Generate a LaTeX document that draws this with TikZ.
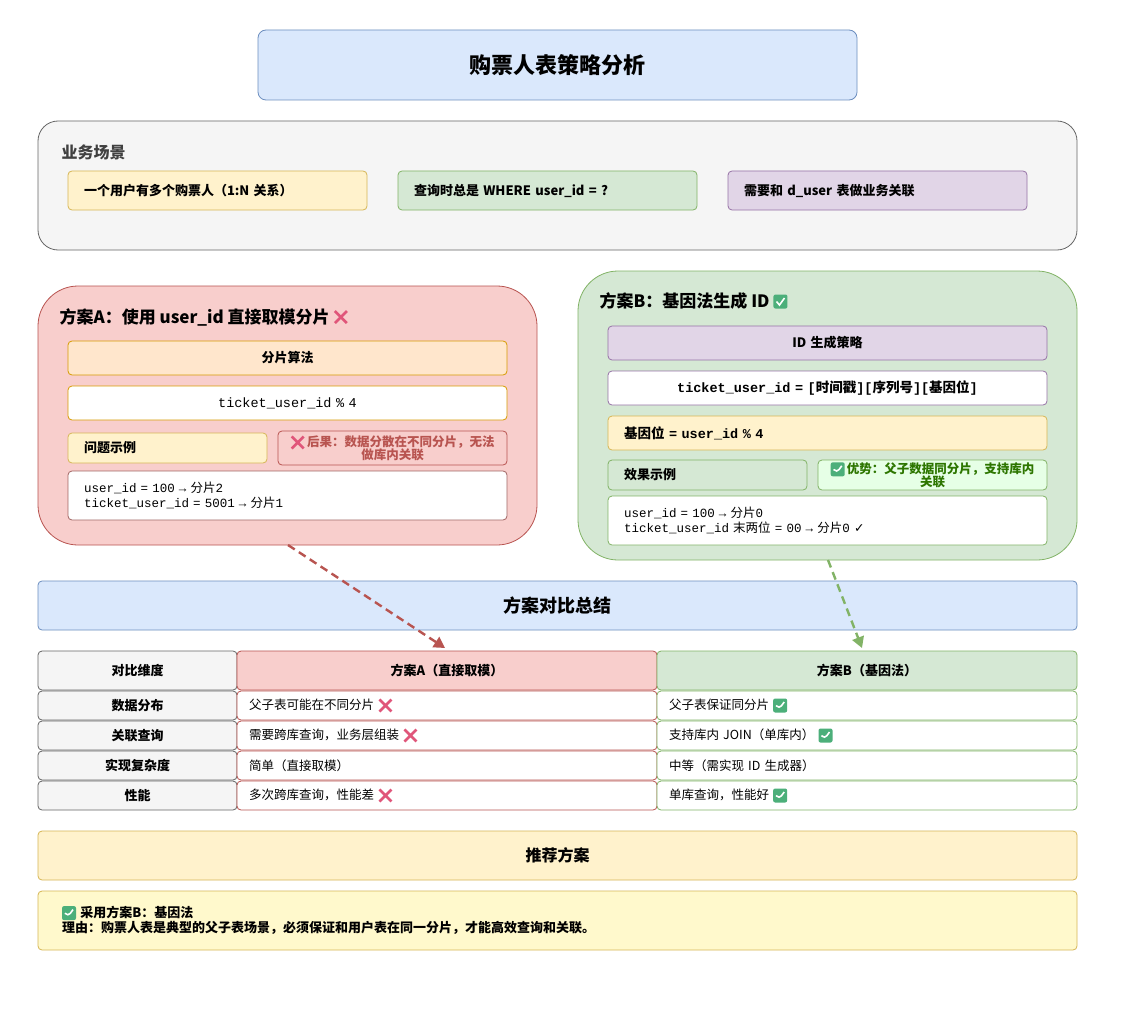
\documentclass[tikz,border=0pt]{standalone}
\usepackage{fontspec}
\setmainfont{Noto Sans CJK SC}
\newfontfamily\cjk{Noto Sans CJK SC}
\newfontfamily\dv{DejaVu Sans}
\setmonofont{Liberation Mono}[WordSpace={1,0,0}]
\usetikzlibrary{arrows.meta}
\definecolor{bluef}{HTML}{DAE8FC}\definecolor{blues}{HTML}{6C8EBF}
\definecolor{grayf}{HTML}{F5F5F5}\definecolor{grays}{HTML}{666666}
\definecolor{yelf}{HTML}{FFF2CC}\definecolor{yels}{HTML}{D6B656}
\definecolor{grnf}{HTML}{D5E8D4}\definecolor{grns}{HTML}{82B366}
\definecolor{purf}{HTML}{E1D5E7}\definecolor{purs}{HTML}{9673A6}
\definecolor{redf}{HTML}{F8CECC}\definecolor{reds}{HTML}{B85450}
\definecolor{orgf}{HTML}{FFE6CC}\definecolor{orgs}{HTML}{D79B00}
\definecolor{okg}{HTML}{4CAF7A}\definecolor{xred}{HTML}{E0567A}
\definecolor{lgf}{HTML}{E6FFE6}\definecolor{gtxt}{HTML}{2D7600}
\definecolor{ltyel}{HTML}{FFF9CC}
\newcommand\okm{\tikz[baseline=-0.35em,x=1pt,y=1pt]{\fill[rounded corners=2pt,fill=okg] (0,-7) rectangle (14,7); \draw[white,line width=1.6pt] (3,0)--(6,-3.5)--(11,3.5);}}
\newcommand\xm{\tikz[baseline=-0.35em,x=1pt,y=1pt]{\draw[xred,line width=2.6pt] (1,-6)--(13,6) (1,6)--(13,-6);}}
\newcommand\fs[1]{\fontsize{#1pt}{\dimexpr #1pt*5/4\relax}\selectfont}
\newcommand\bx[7]{%
 \pgfmathsetmacro\bw{#4-#2}\pgfmathsetmacro\bh{#5-#3}\pgfmathsetmacro\tw{#4-#2-24}%
 \pgfmathsetmacro\cx{(#2+#4)/2}\pgfmathsetmacro\cy{(#3+#5)/2}%
 \node[text width=\tw pt,#6,minimum width=\bw pt,minimum height=\bh pt] (#1) at (\cx,\cy) {#7};}
\tikzset{
 box/.style={draw,rounded corners=4pt,inner xsep=12pt,inner ysep=0pt,align=center,line width=0.8pt,font=\fs{13}\bfseries},
 lft/.style={align=left},
 arr/.style={line width=2.4pt,dash pattern=on 8pt off 5pt,-{Triangle[length=11pt,width=12pt]}},
}
\begin{document}
\begin{tikzpicture}[x=1pt,y=-1pt]
\useasboundingbox[fill=white] (0,0) rectangle (1129,1011);
% title
\bx{title}{258}{30}{857}{100}{box,fill=bluef,draw=blues,rounded corners=8pt,font=\fs{22}\bfseries}{购票人表策略分析}
% business
\bx{biz}{38}{121}{1077}{250}{box,fill=grayf,draw=grays,rounded corners=20pt}{}
\node[anchor=west,font=\fs{16}\bfseries,text=black!75] (bizt) at (58,152) {业务场景};
\bx{b1}{68}{171}{367}{210}{box,lft,fill=yelf,draw=yels,inner xsep=16pt,text width=267pt}{一个用户有多个购票人（1:N 关系）}
\bx{b2}{398}{171}{697}{210}{box,lft,fill=grnf,draw=grns,inner xsep=16pt,text width=267pt}{查询时总是 WHERE user\_id = ?}
\bx{b3}{728}{171}{1027}{210}{box,lft,fill=purf,draw=purs,inner xsep=16pt,text width=267pt}{需要和 d\_user 表做业务关联}
% plan A
\bx{A}{38}{286}{537}{545}{box,fill=redf,draw=reds,rounded corners=40pt}{}
\node[anchor=west,font=\fs{17}\bfseries] (At) at (56,317) {方案A：使用 user\_id 直接取模分片 \xm};
\bx{a1}{68}{341}{507}{375}{box,fill=orgf,draw=orgs}{分片算法}
\bx{a2}{68}{386}{507}{420}{box,fill=white,draw=orgs,font=\fs{13.5}\ttfamily}{ticket\_user\_id \% 4}
\bx{a3}{68}{433}{267}{463}{box,lft,fill=yelf,draw=yels,inner xsep=16pt,text width=167pt}{问题示例}
\bx{a4}{278}{431}{507}{465}{box,fill=redf,draw=reds,text=reds,inner xsep=4pt,text width=221pt,font=\fs{12.5}\bfseries}{\xm\,后果：数据分散在不同分片，无法\\[-3pt]做库内关联}
\bx{a5}{68}{471}{507}{520}{box,lft,fill=white,draw=reds!60!gray,inner xsep=16pt,text width=407pt,font=\fs{12.5}\ttfamily}{user\_id = 100 → {\cjk 分片}2\\[-1pt]ticket\_user\_id = 5001 → {\cjk 分片}1}
% plan B
\bx{B}{578}{271}{1077}{560}{box,fill=grnf,draw=grns,rounded corners=40pt}{}
\node[anchor=west,font=\fs{17}\bfseries] (Bt) at (596,301) {方案B：基因法生成 ID \okm};
\bx{c1}{608}{326}{1047}{360}{box,fill=purf,draw=purs}{ID 生成策略}
\bx{c2}{608}{371}{1047}{405}{box,fill=white,draw=purs,font=\fs{13.5}\ttfamily\bfseries}{ticket\_user\_id = [{\cjk 时间戳}][{\cjk 序列号}][{\cjk 基因位}]}
\bx{c3}{608}{416}{1047}{450}{box,lft,fill=yelf,draw=yels,inner xsep=16pt,text width=407pt,font=\fs{13.5}\ttfamily\bfseries}{{\cjk 基因位} = user\_id \% 4}
\bx{c4}{608}{460}{807}{490}{box,lft,fill=grnf,draw=grns,inner xsep=16pt,text width=167pt}{效果示例}
\bx{c5}{818}{460}{1047}{490}{box,fill=lgf,draw=grns,text=gtxt,inner xsep=4pt,text width=221pt,font=\fs{12.5}\bfseries}{\okm\,优势：父子数据同分片，支持库内\\[-3pt]关联}
\bx{c6}{608}{496}{1047}{545}{box,lft,fill=white,draw=grns,inner xsep=16pt,text width=407pt,font=\fs{12.5}\ttfamily}{user\_id = 100 → {\cjk 分片}0\\[-1pt]ticket\_user\_id {\cjk 末两位} = 00 → {\cjk 分片}0 {\dv ✓}}
% summary
\bx{sum}{38}{581}{1077}{630}{box,fill=bluef,draw=blues,font=\fs{18}\bfseries}{方案对比总结}
% table
\bx{h1}{38}{651}{237}{690}{box,fill=grayf,draw=grays}{对比维度}
\bx{h2}{237}{651}{657}{690}{box,fill=redf,draw=reds}{方案A（直接取模）}
\bx{h3}{657}{651}{1077}{690}{box,fill=grnf,draw=grns}{方案B（基因法）}
\foreach \y/\k/\p/\q [count=\i] in {691/数据分布/父子表可能在不同分片 \xm/父子表保证同分片 \okm,
 721/关联查询/需要跨库查询，业务层组装 \xm/支持库内 JOIN（单库内） \okm,
 751/实现复杂度/简单（直接取模）/中等（需实现 ID 生成器）,
 781/性能/多次跨库查询，性能差 \xm/单库查询，性能好 \okm}{
 \pgfmathtruncatemacro\yy{\y+29}
 \bx{r\i k}{38}{\y}{237}{\yy}{box,fill=grayf,draw=grays}{\k}
 \bx{r\i a}{237}{\y}{657}{\yy}{box,lft,fill=white,draw=reds,text width=396pt,font=\fs{12.5}}{\p}
 \bx{r\i b}{657}{\y}{1077}{\yy}{box,lft,fill=white,draw=grns,text width=396pt,font=\fs{12.5}}{\q}
}
% recommendation
\bx{rec}{38}{831}{1077}{880}{box,fill=yelf,draw=yels,font=\fs{16}\bfseries}{推荐方案}
\bx{rec2}{38}{891}{1077}{950}{box,lft,fill=ltyel,draw=yels,inner xsep=24pt,text width=991pt,font=\fs{13}\bfseries}{\okm\ 采用方案B：基因法\\[-1pt]理由：购票人表是典型的父子表场景，必须保证和用户表在同一分片，才能高效查询和关联。}
% arrows
\coordinate (as) at (288,545); \coordinate (ae) at (445,648);
\coordinate (bs) at (828,560); \coordinate (be) at (862,648);
\draw[arr,reds] (as) -- (ae);
\draw[arr,grns] (bs) -- (be);
\end{tikzpicture}
\end{document}
